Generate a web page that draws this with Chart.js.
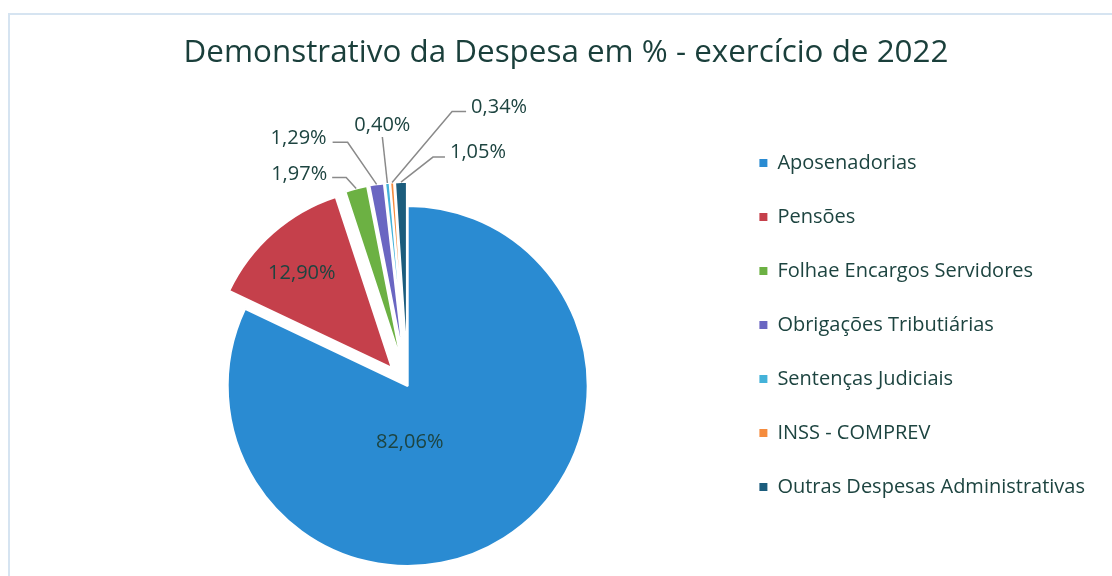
<!DOCTYPE html>
<html lang="pt-BR">
<head>
  <meta charset="utf-8">
  <title>Demonstrativo da Despesa</title>
  <script src="https://cdn.jsdelivr.net/npm/chart.js@4.4.0/dist/chart.umd.min.js"></script>
  <style>
    html, body { margin: 0; padding: 0; background: #fff; }
    #quadro { position: relative; width: 1112px; height: 576px; overflow: hidden; }
    #moldura { position: absolute; left: 8px; top: 13px; width: 1200px; height: 700px;
               border-left: 2px solid #d6e4f1; border-top: 2px solid #d6e4f1; }
  </style>
</head>
<body>
  <div id="quadro">
    <div id="moldura"></div>
    <canvas id="grafico"></canvas>
  </div>
  <script>
    // dados
    const categorias = ['Aposenadorias', 'Pensões', 'Folhae Encargos Servidores', 'Obrigações Tributiárias',
                        'Sentenças Judiciais', 'INSS - COMPREV', 'Outras Despesas Administrativas'];
    const percentuais = [82.06, 12.90, 1.97, 1.29, 0.40, 0.34, 1.05];
    const cores = ['#2a8bd2', '#c5404b', '#6cb143', '#6a66c2', '#44b2d9', '#f58c3e', '#1b5c7c'];

    const RAIO = 180;
    const corTexto = '#1d4440';
    const explosao = [0, 24, 24, 24, 24, 24, 24];   // px que cada fatia sai do centro

    // onde vai cada rotulo (dentro: relativo ao centro da fatia; fora: relativo a ponta da fatia)
    const rotulos = [
      { dentro: true, dx: 2, dy: 56 },
      { dentro: true, dx: -90, dy: -95 },
      { cotovelo: [-10, -11], fim: [-24, -11], texto: [-29, -14], alinha: 'right' },
      { cotovelo: [-29, -42], fim: [-44, -42], texto: [-50, -46], alinha: 'right' },
      { cotovelo: [-5, -46], fim: [-5, -46], texto: [-5, -58], alinha: 'center' },
      { cotovelo: [60, -71], fim: [74, -71], texto: [79, -75], alinha: 'left' },
      { cotovelo: [32, -25], fim: [44, -25], texto: [49, -30], alinha: 'left' }
    ];

    const fmt = v => v.toFixed(2).replace('.', ',') + '%';

    // destaca as fatias como no Excel: so desloca, sem mudar o raio
    const destaque = {
      id: 'destaque',
      afterDatasetsUpdate(chart) {
        chart.getDatasetMeta(0).data.forEach((arc, i) => {
          const meio = (arc.startAngle + arc.endAngle) / 2;
          arc.x += Math.cos(meio) * explosao[i];
          arc.y += Math.sin(meio) * explosao[i];
        });
      },
      afterLayout(chart) {
        // titulo do Excel fica centrado na area toda do objeto grafico
        chart.titleBlock.left -= 53;
      }
    };

    const rotulosFatias = {
      id: 'rotulosFatias',
      afterDatasetsDraw(chart) {
        const ctx = chart.ctx;
        ctx.save();
        ctx.font = '20px "Open Sans"';
        ctx.fillStyle = corTexto;
        ctx.strokeStyle = '#8a8a8a';
        ctx.lineWidth = 1.5;
        ctx.textBaseline = 'middle';
        chart.getDatasetMeta(0).data.forEach((arc, i) => {
          const r = rotulos[i];
          const meio = (arc.startAngle + arc.endAngle) / 2;
          const txt = fmt(percentuais[i]);
          if (r.dentro) {
            ctx.textAlign = 'center';
            ctx.fillText(txt, arc.x + r.dx, arc.y + r.dy);
            return;
          }
          const px = arc.x + Math.cos(meio) * arc.outerRadius;
          const py = arc.y + Math.sin(meio) * arc.outerRadius;
          ctx.beginPath();
          ctx.moveTo(px, py);
          ctx.lineTo(px + r.cotovelo[0], py + r.cotovelo[1]);
          ctx.lineTo(px + r.fim[0], py + r.fim[1]);
          ctx.stroke();
          ctx.textAlign = r.alinha;
          ctx.fillText(txt, px + r.texto[0], py + r.texto[1]);
        });
        ctx.restore();
      }
    };

    Chart.defaults.font.family = '"Open Sans", sans-serif';
    Chart.defaults.color = corTexto;

    new Chart(document.getElementById('grafico'), {
      type: 'pie',
      data: {
        labels: categorias,
        datasets: [{
          data: percentuais,
          backgroundColor: cores,
          borderColor: '#ffffff',
          borderWidth: 2,
          clip: false
        }]
      },
      options: {
        responsive: true,
        maintainAspectRatio: false,
        animation: false,
        events: [],
        radius: RAIO,
        layout: { padding: { left: 90, right: 17, top: 0, bottom: 0 } },
        plugins: {
          title: {
            display: true,
            text: 'Demonstrativo da Despesa em % - exercício de 2022',
            color: '#1a3f3b',
            font: { size: 31.4, weight: 'normal' },
            padding: { top: 34, bottom: 124.3 }
          },
          legend: {
            position: 'right',
            align: 'start',
            title: { display: true, text: '', font: { size: 20 }, padding: { top: 95, bottom: 0 } },
            labels: {
              boxWidth: 8,
              boxHeight: 8,
              padding: 34,
              font: { size: 20 },
              color: corTexto,
              generateLabels: chart => categorias.map((c, i) => ({
                text: c, fillStyle: cores[i], strokeStyle: cores[i], lineWidth: 0,
                fontColor: corTexto, hidden: false, index: i
              }))
            }
          },
          tooltip: { enabled: false }
        }
      },
      plugins: [destaque, rotulosFatias]
    });
  </script>
</body>
</html>
